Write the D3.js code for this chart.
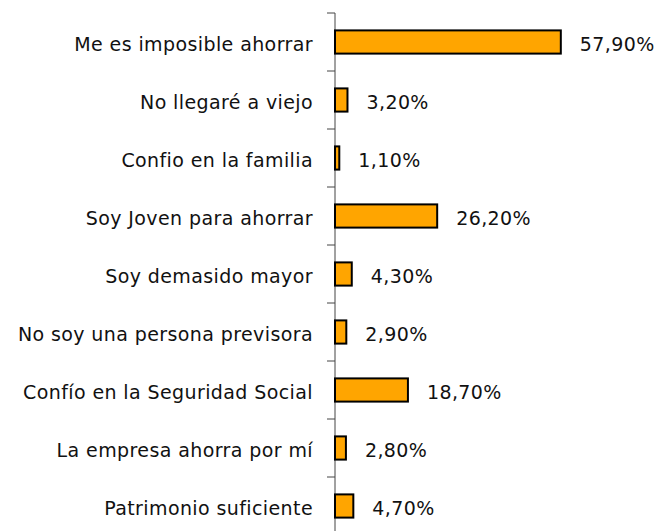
<!DOCTYPE html>
<meta charset="utf-8">
<style>
  body { margin: 0; background: #fff; }
  text { font-family: "DejaVu Sans", sans-serif; fill: #111; }
  .bar { fill: #FFA500; stroke: #000; stroke-width: 2; }
</style>
<body></body>
<script src="https://cdn.jsdelivr.net/npm/d3@7"></script>
<script>

var categories = ["Me es imposible ahorrar", "No llegaré a viejo", "Confio en la familia",
  "Soy Joven para ahorrar", "Soy demasido mayor", "No soy una persona previsora",
  "Confío en la Seguridad Social", "La empresa ahorra por mí", "Patrimonio suficiente"];
var values = [57.9, 3.2, 1.1, 26.2, 4.3, 2.9, 18.7, 2.8, 4.7];
var valueLabels = ["57,90%", "3,20%", "1,10%", "26,20%", "4,30%", "2,90%", "18,70%", "2,80%", "4,70%"];

var w = 658, h = 531;
var axisX = 335;

var svg = d3.select("body").append("svg")
    .attr("width", w)
    .attr("height", h);

var y = d3.scaleBand()
    .domain(categories)
    .range([13, 535])
    .paddingInner(0.6)
    .paddingOuter(0.3);

var x = d3.scaleLinear()
    .domain([0, 100])
    .range([axisX, axisX + 390]);

var gap = (y.step() - y.bandwidth()) / 2;

// category labels
var yaxis = d3.axisLeft(y).tickSize(0).tickPadding(22);
var ag = svg.append("g")
    .attr("transform", "translate(" + axisX + ",0)")
    .call(yaxis);
ag.select(".domain").remove();
ag.selectAll("text")
    .style("font-size", "19px")
    .style("letter-spacing", "0.4px")
    .attr("dy", "0.45em")
    .attr("fill", "#111");

// axis line + ticks between categories
svg.append("line")
    .attr("x1", axisX).attr("x2", axisX)
    .attr("y1", y.range()[0]).attr("y2", y.range()[1])
    .attr("stroke", "#444");

svg.selectAll("line.tick")
    .data(categories)
    .enter().append("line")
    .attr("class", "tick")
    .attr("x1", axisX - 8).attr("x2", axisX)
    .attr("y1", function(d) { return y(d) - gap; })
    .attr("y2", function(d) { return y(d) - gap; })
    .attr("stroke", "#444");

svg.selectAll("rect.bar")
    .data(values)
    .enter().append("rect")
    .attr("class", "bar")
    .attr("x", x(0))
    .attr("y", function(d, i) { return y(categories[i]); })
    .attr("width", function(d) { return x(d) - x(0); })
    .attr("height", y.bandwidth());

svg.selectAll("text.val")
    .data(values)
    .enter().append("text")
    .attr("class", "val")
    .attr("x", function(d) { return x(d) + 19; })
    .attr("y", function(d, i) { return y(categories[i]) + y.bandwidth() / 2; })
    .attr("dy", "0.45em")
    .style("font-size", "19px")
    .style("letter-spacing", "0.4px")
    .text(function(d, i) { return valueLabels[i]; });

</script>
